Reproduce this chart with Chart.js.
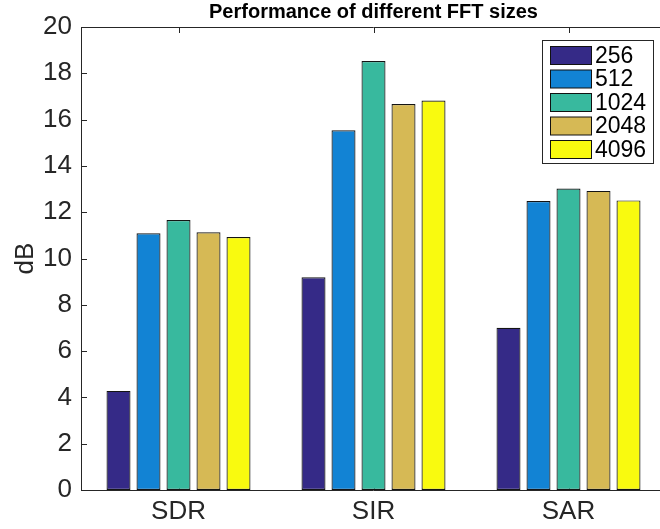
<!DOCTYPE html>
<html>
<head>
<meta charset="utf-8">
<script src="https://cdn.jsdelivr.net/npm/chart.js@4/dist/chart.umd.min.js"></script>
<style>
  html, body { margin: 0; padding: 0; background: #fff; overflow: hidden; }
  #wrap { width: 660px; height: 529px; overflow: hidden; }
  canvas { display: block; }
</style>
</head>
<body>
<div id="wrap"><canvas id="c" width="667" height="529"></canvas></div>
<script>
// Metrics on the x axis
const metrics = ['SDR', 'SIR', 'SAR'];

// Series: one per FFT size (values in dB)
const fftSizes = ['256', '512', '1024', '2048', '4096'];
const fft256  = [4.28, 9.19, 7.01];
const fft512  = [11.09, 15.54, 12.48];
const fft1024 = [11.66, 18.53, 13.02];
const fft2048 = [11.13, 16.67, 12.92];
const fft4096 = [10.93, 16.82, 12.51];

// Y axis range and tick step
const yMin = 0, yMax = 20, yStep = 2;

const seriesColors = ['#352A87', '#1283D4', '#38B99E', '#D6B955', '#F9FA0F'];
const seriesValues = [fft256, fft512, fft1024, fft2048, fft4096];

const AXIS = '#262626';
const FONT = '"Liberation Sans", Arial, Helvetica, sans-serif';

// Box outline, inward tick marks and boxed legend
const axesFrame = {
  id: 'axesFrame',
  beforeDatasetsDraw(chart) {
    const { ctx, chartArea: a, scales } = chart;
    ctx.save();
    ctx.strokeStyle = AXIS;
    ctx.lineWidth = 1;
    ctx.beginPath();
    // y ticks, inward on both sides
    scales.y.ticks.forEach(t => {
      const y = Math.round(scales.y.getPixelForValue(t.value)) + 0.5;
      ctx.moveTo(a.left, y); ctx.lineTo(a.left + 6, y);
      ctx.moveTo(a.right, y); ctx.lineTo(a.right - 6, y);
    });
    // x ticks, inward at top and bottom
    metrics.forEach((m, i) => {
      const x = Math.round(scales.x.getPixelForValue(i)) + 0.5;
      ctx.moveTo(x, a.top); ctx.lineTo(x, a.top + 6);
      ctx.moveTo(x, a.bottom); ctx.lineTo(x, a.bottom - 6);
    });
    ctx.stroke();
    ctx.restore();
  },
  afterDatasetsDraw(chart) {
    const { ctx, chartArea: a } = chart;
    ctx.save();
    ctx.strokeStyle = AXIS;
    ctx.lineWidth = 1;
    const l = Math.round(a.left) + 0.5, r = Math.round(a.right) - 0.5;
    const t = Math.round(a.top) + 0.5, b = Math.round(a.bottom) + 0.5;
    ctx.beginPath();
    ctx.moveTo(l, t); ctx.lineTo(r, t); ctx.lineTo(r, b); ctx.lineTo(l, b); ctx.closePath();
    ctx.stroke();

    // legend box in the upper right corner
    const ds = chart.data.datasets;
    const boxL = 542.5, boxT = 40.5, boxW = 111, boxH = 123;
    ctx.fillStyle = '#fff';
    ctx.fillRect(boxL, boxT, boxW, boxH);
    ctx.strokeStyle = AXIS;
    ctx.strokeRect(boxL, boxT, boxW, boxH);
    ctx.font = '23px ' + FONT;
    ctx.textBaseline = 'middle';
    ctx.textAlign = 'left';
    ds.forEach((d, i) => {
      const y = 46.5 + i * 23.5;
      ctx.fillStyle = d.backgroundColor;
      ctx.fillRect(550.5, y, 41, 18);
      ctx.strokeStyle = '#111';
      ctx.strokeRect(550.5, y, 41, 18);
      ctx.fillStyle = '#000';
      ctx.fillText(d.label, 595, y + 10);
    });
    ctx.restore();
  }
};

new Chart(document.getElementById('c'), {
  type: 'bar',
  data: {
    labels: metrics,
    datasets: fftSizes.map((s, i) => ({
      label: s,
      data: seriesValues[i],
      backgroundColor: seriesColors[i],
      borderColor: '#141414',
      borderWidth: 1.2,
      borderSkipped: false,
      categoryPercentage: 5 / 6.5,
      barPercentage: 0.8
    }))
  },
  options: {
    responsive: false,
    animation: false,
    layout: { padding: { left: 0, right: 1, top: 0, bottom: 0 } },
    plugins: {
      legend: { display: false },
      tooltip: { enabled: false },
      title: {
        display: true,
        fullSize: false,
        text: 'Performance of different FFT sizes',
        color: '#000',
        font: { family: FONT, size: 20, weight: 'bold', lineHeight: '20px' },
        padding: { top: 2, bottom: 5 }
      }
    },
    scales: {
      x: {
        type: 'category',
        offset: true,
        grid: { display: false, drawTicks: false },
        border: { display: false },
        ticks: { color: AXIS, font: { family: FONT, size: 26 }, padding: 6 },
        afterFit(scale) { scale.height = 39; }
      },
      y: {
        min: yMin,
        max: yMax,
        grid: { display: false, drawTicks: false },
        border: { display: false },
        ticks: { stepSize: yStep, color: AXIS, font: { family: FONT, size: 26 }, padding: 9 },
        title: {
          display: true,
          text: 'dB',
          color: AXIS,
          font: { family: FONT, size: 26 },
          padding: { top: 10, bottom: 0 }
        },
        afterFit(scale) { scale.width = 81; }
      }
    }
  },
  plugins: [axesFrame]
});
</script>
</body>
</html>
